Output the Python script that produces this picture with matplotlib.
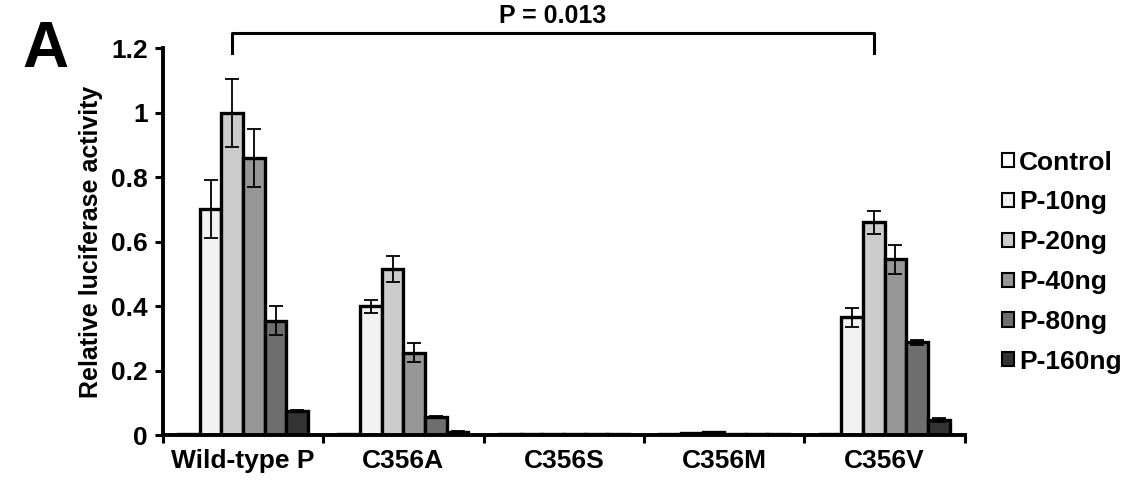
import numpy as np
import matplotlib.pyplot as plt

plt.rcParams['font.family'] = ['Liberation Sans', 'DejaVu Sans']
plt.rcParams['font.weight'] = 'bold'

groups = ['Wild-type P', 'C356A', 'C356S', 'C356M', 'C356V']
series = ['Control', 'P-10ng', 'P-20ng', 'P-40ng', 'P-80ng', 'P-160ng']
colors = ['#ffffff', '#f2f2f2', '#cccccc', '#969696', '#6e6e6e', '#333333']

# rows = series, columns = groups
values = [
    [0.003, 0.003, 0.003, 0.003, 0.003],   # Control
    [0.70, 0.40, 0.003, 0.006, 0.365],     # P-10ng
    [1.00, 0.515, 0.003, 0.008, 0.66],     # P-20ng
    [0.86, 0.255, 0.003, 0.004, 0.545],    # P-40ng
    [0.355, 0.055, 0.003, 0.003, 0.287],   # P-80ng
    [0.075, 0.010, 0.003, 0.003, 0.047],   # P-160ng
]
errors = [
    [0.0, 0.0, 0.0, 0.0, 0.0],
    [0.09, 0.02, 0.0, 0.0, 0.03],
    [0.105, 0.04, 0.0, 0.0, 0.035],
    [0.09, 0.03, 0.0, 0.0, 0.045],
    [0.045, 0.003, 0.0, 0.0, 0.008],
    [0.004, 0.003, 0.0, 0.0, 0.007],
]
p_text = 'P = 0.013'

fig = plt.figure(figsize=(11.31, 4.82), dpi=100)
ax = fig.add_axes([0.144, 0.0975, 0.709, 0.8025])

x = np.arange(len(groups))
w = 0.135
offsets = (np.arange(len(series)) - 2.5) * w
for i, name in enumerate(series):
    ax.bar(x + offsets[i], values[i], w, color=colors[i], edgecolor='black',
           linewidth=2.4, label=name, zorder=2)
    err = np.array(errors[i])
    mask = err > 0
    ax.errorbar((x + offsets[i])[mask], np.array(values[i])[mask], yerr=err[mask],
                fmt='none', ecolor='black', elinewidth=1.3, capsize=5, capthick=1.3, zorder=3)

ax.set_xlim(-0.5, 4.5)
ax.set_ylim(0, 1.2)
ax.set_yticks(np.arange(0, 1.21, 0.2))
ax.set_yticklabels(['0', '0.2', '0.4', '0.6', '0.8', '1', '1.2'])
ax.set_xticks(x)
ax.set_xticklabels(groups)
ax.set_xticks(np.arange(-0.5, 4.6, 1), minor=True)
ax.tick_params(axis='x', which='major', length=0, pad=10, labelsize=19)
ax.tick_params(axis='x', which='minor', length=6, width=2.2, direction='out')
ax.tick_params(axis='y', length=6, width=2.2, labelsize=19, pad=5)
for s in ['top', 'right']:
    ax.spines[s].set_visible(False)
for s in ['left', 'bottom']:
    ax.spines[s].set_linewidth(2.8)
ax.set_ylabel('Relative luciferase activity', fontsize=18, fontweight='bold', labelpad=6)

# significance bracket between WT and C356V at P-20ng
xa = x[0] + offsets[2]
xb = x[4] + offsets[2]
ax.plot([xa, xa, xb, xb], [1.185, 1.247, 1.247, 1.185], color='black', lw=2.2,
        clip_on=False)
ax.text((xa + xb) / 2, 1.262, p_text, ha='center', va='bottom', fontsize=18,
        fontweight='bold')

fig.text(0.020, 0.862, 'A', fontsize=46, fontweight='bold')

handles, labels = ax.get_legend_handles_labels()
leg = ax.legend(handles, labels, loc='center left', bbox_to_anchor=(1.03, 0.447),
                frameon=False, fontsize=19, handlelength=0.45, handleheight=0.45,
                handletextpad=0.2, labelspacing=0.6, borderpad=0)
for h in leg.legend_handles:
    h.set_linewidth(1.5)

fig.savefig('out.png', dpi=100)
